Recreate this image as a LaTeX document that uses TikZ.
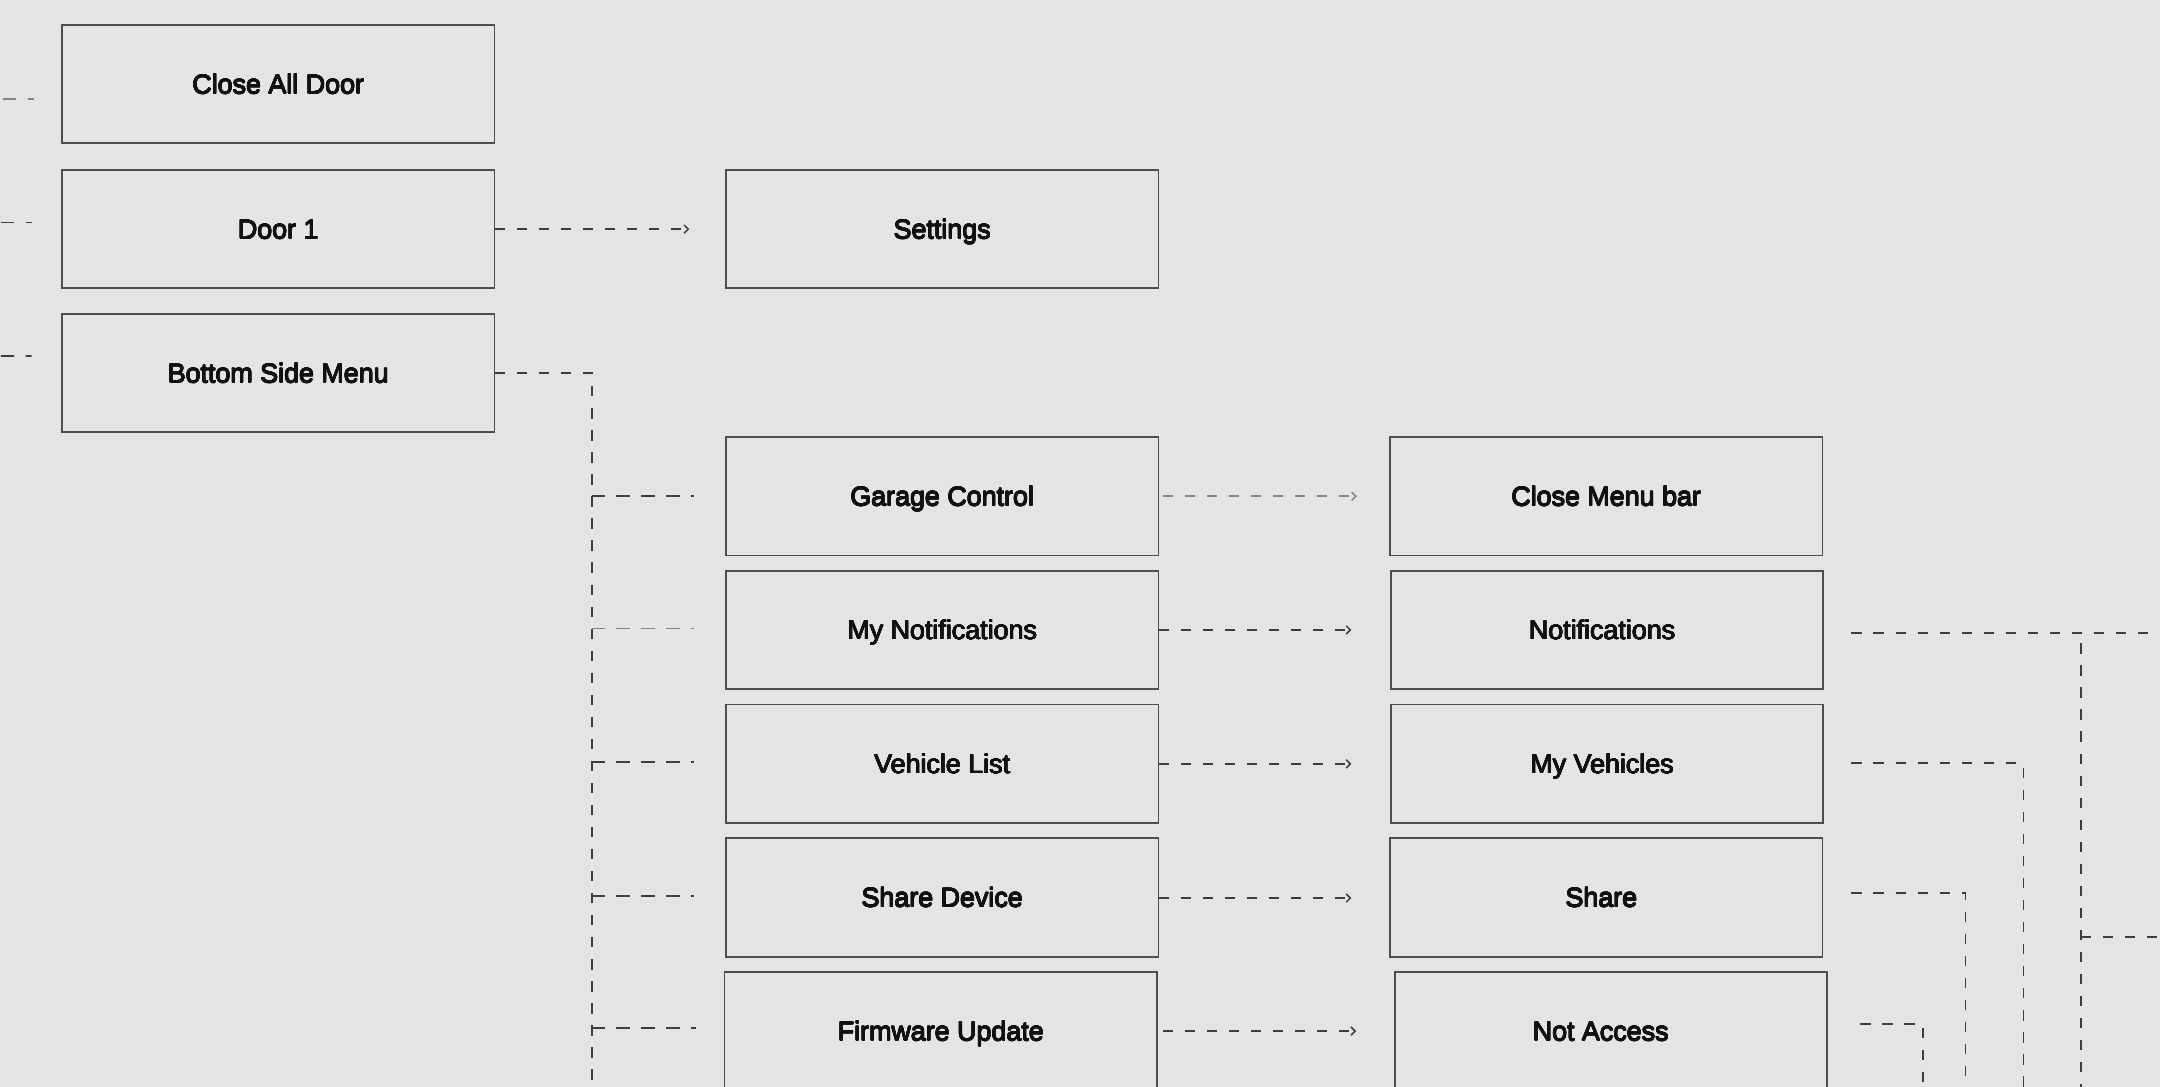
\documentclass[tikz,border=0pt]{standalone}
\usepackage{fontspec}
\setmainfont{Liberation Sans}
\newfontfamily\boxfont{Liberation Sans}
\usepackage{contour}
\contourlength{0.28pt}
\contournumber{12}
\usetikzlibrary{arrows.meta,calc}
\definecolor{bg}{HTML}{E4E4E4}
\definecolor{ln}{HTML}{3E3E3E}
\definecolor{lnl}{HTML}{858585}
\definecolor{bd}{HTML}{4E4E4E}
\definecolor{tx}{HTML}{111111}
\newcommand{\bxt}[1]{\contour{tx}{#1}}
\begin{document}
\begin{tikzpicture}[x=1pt,y=-1pt,
 box/.style={draw=bd,line width=1.25pt,minimum width=314pt,minimum height=86pt,inner sep=0pt,outer sep=0pt,text height=14pt,text depth=0pt,font=\boxfont\fontsize{19.5pt}{22pt}\selectfont,text=tx},
 dl/.style={draw=ln,line width=1.25pt,dash pattern=on 7.5pt off 8.5pt},
 dll/.style={dl,draw=lnl},
 arr/.style={-{Straight Barb[length=3pt,width=6pt,line width=1.1pt]}},
]
\fill[bg] (0,0) rectangle (1568,789);
\useasboundingbox (0,0) rectangle (1568,789);
\clip (0,0) rectangle (1568,789);

% column 1
\node[box] (cad) at (202,61) {\bxt{Close All Door}};
\node[box] (door) at (202,166.3) {\bxt{Door 1}};
\node[box] (bsm) at (202,270.8) {\bxt{Bottom Side Menu}};
% column 2
\node[box] (set) at (684,166.3) {\bxt{Settings}};
\node[box] (gar) at (684,360.3) {\bxt{Garage Control}};
\node[box] (myn) at (684,457.3) {\bxt{My Notifications}};
\node[box] (vl) at (684,554.5) {\bxt{Vehicle List}};
\node[box] (sd) at (684,651.5) {\bxt{Share Device}};
\node[box] (fw) at (683,748.5) {\bxt{Firmware Update}};
% column 3
\node[box] (cmb) at (1166,360.3) {\bxt{Close Menu bar}};
\node[box] (not) at (1166.5,457.3) {\hspace*{-7pt}\bxt{Notifications}};
\node[box] (myv) at (1166.5,554.5) {\hspace*{-7pt}\bxt{My Vehicles}};
\node[box] (sh) at (1166,651.5) {\hspace*{-7pt}\bxt{Share}};
\node[box] (na) at (1169.5,748.5) {\hspace*{-15pt}\bxt{Not Access}};

% free ends
\coordinate (trunkB) at (429.5,800);
\coordinate (nR) at (1580,459.3);
\coordinate (vt) at (1510.4,467);
\coordinate (vb) at (1510.4,800);
\coordinate (bj) at (1510.4,680);
\coordinate (bR) at (1580,680);
\coordinate (myvB) at (1468.8,800);
\coordinate (shB) at (1426.7,800);
\coordinate (naB) at (1395.9,800);

% left stubs
\draw[dll,dash pattern=on 9.2pt off 8.5pt on 4.8pt off 30pt] (2.4,71.9) -- ($(cad.west)+(-20.1,10.9)$);
\draw[dl,dash pattern=on 9.5pt off 8.4pt on 4.4pt off 30pt] (0.7,161.6) -- ($(door.west)+(-22,-4.7)$);
\draw[dl,dash pattern=on 9.5pt off 8.4pt on 4.4pt off 30pt] (0.7,258.4) -- ($(bsm.west)+(-22,-12.4)$);

% door 1 -> settings
\draw[dl,arr] (door.east) -- ($(set.west)+(-26.6,0)$);

% bottom side menu trunk
\draw[dl] (bsm.east) -| (trunkB);
\draw[dl,dash pattern=on 10pt off 8pt] ($(gar.west)+(-97.5,-0.5)$) -- ($(gar.west)+(-23.5,-0.5)$);
\draw[dll,dash pattern=on 10pt off 8pt] ($(myn.west)+(-97.5,-1)$) -- ($(myn.west)+(-23.5,-1)$);
\draw[dl,dash pattern=on 10pt off 8pt] ($(vl.west)+(-97.5,-1.5)$) -- ($(vl.west)+(-23.5,-1.5)$);
\draw[dl,dash pattern=on 10pt off 8pt] ($(sd.west)+(-97.5,-1)$) -- ($(sd.west)+(-23.5,-1)$);
\draw[dl,dash pattern=on 10pt off 8pt] ($(fw.west)+(-96.5,-2)$) -- ($(fw.west)+(-21,-2)$);

% column 2 -> column 3
\draw[dll,arr] ($(gar.east)+(3,0)$) -- ($(cmb.west)+(-24,0)$);
\draw[dl,arr] (myn.east) -- ($(not.west)+(-28.5,0)$);
\draw[dl,arr] (vl.east) -- ($(myv.west)+(-28.5,0)$);
\draw[dl,arr] ($(sd.east)+(0,0.4)$) -- ($(sh.west)+(-28,0.4)$);
\draw[dl,arr] ($(fw.east)+(4,0)$) -- ($(na.west)+(-28,0)$);

% right side
\draw[dl] ($(not.east)+(20.5,2)$) -- (nR);
\draw[dl] (vt) -- (vb);
\draw[dl] (bj) -- (bR);
\draw[dl] ($(myv.east)+(20.5,-0.4)$) -| (myvB);
\draw[dl] ($(sh.east)+(21,-3)$) -| (shB);
\draw[dl] ($(na.east)+(24,-5.2)$) -| (naB);
\end{tikzpicture}
\end{document}
